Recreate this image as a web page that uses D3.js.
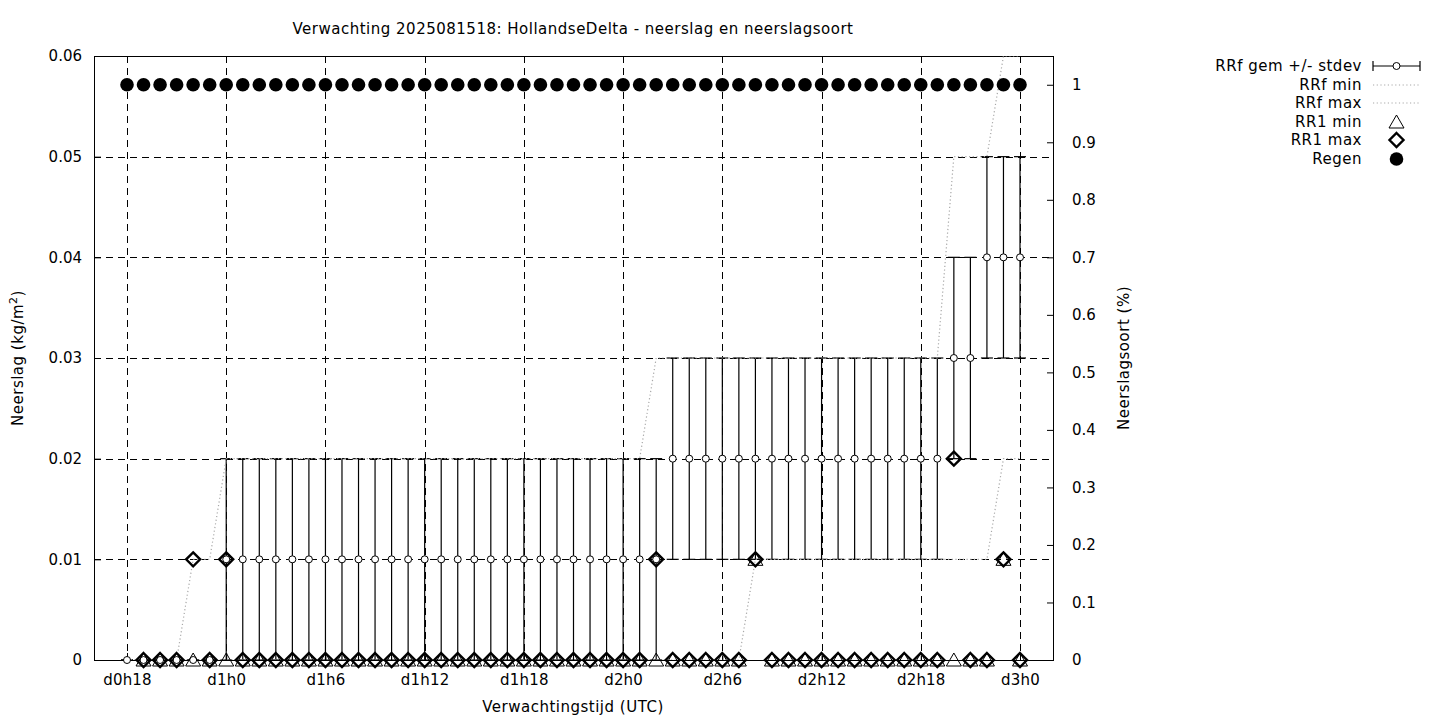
<!DOCTYPE html>
<html><head><meta charset="utf-8">
<script src="https://cdn.jsdelivr.net/npm/d3@7"></script>
<style>
html,body{margin:0;padding:0;background:#fff;}
svg text{font-family:"DejaVu Sans",sans-serif;font-size:15px;fill:#000;}
svg text.wide{letter-spacing:0.5px;}
</style></head>
<body>
<svg id="chart" width="1440" height="720"></svg>
<script>
// ---- data (hourly forecast steps, d0h18 .. d3h0) ----
const stepLabels = ["d0h18","d0h19","d0h20","d0h21","d0h22","d0h23",
 "d1h0","d1h1","d1h2","d1h3","d1h4","d1h5","d1h6","d1h7","d1h8","d1h9","d1h10","d1h11",
 "d1h12","d1h13","d1h14","d1h15","d1h16","d1h17","d1h18","d1h19","d1h20","d1h21","d1h22","d1h23",
 "d2h0","d2h1","d2h2","d2h3","d2h4","d2h5","d2h6","d2h7","d2h8","d2h9","d2h10","d2h11",
 "d2h12","d2h13","d2h14","d2h15","d2h16","d2h17","d2h18","d2h19","d2h20","d2h21","d2h22","d2h23","d3h0"];
const xTickLabels = ["d0h18","d1h0","d1h6","d1h12","d1h18","d2h0","d2h6","d2h12","d2h18","d3h0"];
const yTicks = [0,0.01,0.02,0.03,0.04,0.05,0.06];
const y2Ticks = [0,0.1,0.2,0.3,0.4,0.5,0.6,0.7,0.8,0.9,1];

const rrfMean = [0,0,0,0,0,0,
 0.01,0.01,0.01,0.01,0.01,0.01,0.01,0.01,0.01,0.01,0.01,0.01,0.01,0.01,0.01,0.01,0.01,0.01,0.01,0.01,0.01,0.01,0.01,0.01,0.01,0.01,0.01,
 0.02,0.02,0.02,0.02,0.02,0.02,0.02,0.02,0.02,0.02,0.02,0.02,0.02,0.02,0.02,0.02,0.02,
 0.03,0.03,0.04,0.04,0.04];
const rrfStdev = [0,0,0,0,0,0,
 0.01,0.01,0.01,0.01,0.01,0.01,0.01,0.01,0.01,0.01,0.01,0.01,0.01,0.01,0.01,0.01,0.01,0.01,0.01,0.01,0.01,0.01,0.01,0.01,0.01,0.01,0.01,
 0.01,0.01,0.01,0.01,0.01,0.01,0.01,0.01,0.01,0.01,0.01,0.01,0.01,0.01,0.01,0.01,0.01,
 0.01,0.01,0.01,0.01,0.01];
const rrfMin = [0,0,0,0,0,0,0,0,0,0,0,0,0,0,0,0,0,0,0,0,0,0,0,0,0,0,0,0,0,0,0,0,0,0,0,0,0,0,
 0.01,0.01,0.01,0.01,0.01,0.01,0.01,0.01,0.01,0.01,0.01,0.01,0.01,0.01,0.01,
 0.02,0.02];
const rrfMax = [0,0,0,0,0.01,0.01,
 0.02,0.02,0.02,0.02,0.02,0.02,0.02,0.02,0.02,0.02,0.02,0.02,0.02,0.02,0.02,0.02,0.02,0.02,0.02,0.02,0.02,0.02,0.02,0.02,0.02,0.02,
 0.03,0.03,0.03,0.03,0.03,0.03,0.03,0.03,0.03,0.03,0.03,0.03,0.03,0.03,0.03,0.03,0.03,0.03,
 0.05,0.05,0.05,0.06,0.06];
const rr1Min = [null,0,0,0,0,0,0,0,0,0,0,0,0,0,0,0,0,0,0,0,0,0,0,0,0,0,0,0,0,0,0,0,0,0,0,0,0,0,
 0.01,0,0,0,0,0,0,0,0,0,0,0,0,0,0,0.01,0];
const rr1Max = [null,0,0,0,0.01,0,0.01,0,0,0,0,0,0,0,0,0,0,0,0,0,0,0,0,0,0,0,0,0,0,0,0,0,
 0.01,0,0,0,0,0,0.01,0,0,0,0,0,0,0,0,0,0,0,0.02,0,0,0.01,0];
const regen = [1,1,1,1,1,1,1,1,1,1,1,1,1,1,1,1,1,1,1,1,1,1,1,1,1,1,1,1,1,1,1,1,1,1,1,1,1,1,1,1,1,1,1,1,1,1,1,1,1,1,1,1,1,1,1];

const legendLabels = ["RRf gem +/- stdev","RRf min","RRf max","RR1 min","RR1 max","Regen"];

// ---- layout ----
const svg = d3.select("#chart");
const L = 94, R = 1054, T = 56, B = 660;
const x = d3.scalePoint().domain(stepLabels).range([127, 1020]);
const y = d3.scaleLinear().domain([0, 0.06]).range([B, T]);
const y2 = d3.scaleLinear().domain([0, 1.05]).range([B, T]);
const gray = "#a8a8a8";

svg.append("defs").append("clipPath").attr("id","clip")
  .append("rect").attr("x",L).attr("y",T).attr("width",R-L).attr("height",B-T);

// grid
const grid = svg.append("g").attr("stroke","#000").attr("stroke-width",1).attr("stroke-dasharray","7,5");
grid.selectAll("line.h").data(yTicks.filter(v => v > 0 && v < 0.06)).join("line")
  .attr("x1",L).attr("x2",R).attr("y1",d=>Math.round(y(d))+0.5).attr("y2",d=>Math.round(y(d))+0.5);
grid.selectAll("line.v").data(xTickLabels).join("line")
  .attr("y1",T).attr("y2",B).attr("x1",d=>Math.round(x(d))+0.5).attr("x2",d=>Math.round(x(d))+0.5);

// axes
const fmt = d3.format(".2f");
const axL = svg.append("g").attr("transform",`translate(${L},0)`)
  .call(d3.axisLeft(y).tickValues(yTicks).tickSizeInner(-7).tickSizeOuter(0).tickPadding(12).tickFormat(d=>d===0?"0":fmt(d)));
const axR = svg.append("g").attr("transform",`translate(${R},0)`)
  .call(d3.axisRight(y2).tickValues(y2Ticks).tickSizeInner(-7).tickSizeOuter(0).tickPadding(18).tickFormat(d=>d===0?"0":(d===1?"1":d3.format(".1f")(d))));
const axB = svg.append("g").attr("transform",`translate(0,${B})`)
  .call(d3.axisBottom(x).tickValues(xTickLabels).tickSizeInner(-7).tickSizeOuter(0).tickPadding(14));
[axL,axR,axB].forEach(a=>{a.select(".domain").remove(); a.selectAll("text").style("font-family","DejaVu Sans").style("font-size","15px");
  a.selectAll("line").attr("stroke","#000");});
axB.selectAll("text").style("letter-spacing","0.2px");
// border
svg.append("rect").attr("x",L+0.5).attr("y",T+0.5).attr("width",R-L-1).attr("height",B-T)
  .attr("fill","none").attr("stroke","#000").attr("stroke-width",1);

// plot group (lines clipped to the plot area)
const g = svg.append("g").attr("clip-path","url(#clip)");
const idx = d3.range(stepLabels.length);

// error bars
const cap = 6;
const eb = g.append("g").attr("stroke","#000").attr("stroke-width",1.2);
idx.forEach(i=>{
  const xi = x(stepLabels[i]);
  const lo = y(rrfMean[i]-rrfStdev[i]), hi = y(rrfMean[i]+rrfStdev[i]);
  eb.append("line").attr("x1",xi).attr("x2",xi).attr("y1",lo).attr("y2",hi);
  eb.append("line").attr("x1",xi-cap).attr("x2",xi+cap).attr("y1",lo).attr("y2",lo);
  eb.append("line").attr("x1",xi-cap).attr("x2",xi+cap).attr("y1",hi).attr("y2",hi);
});

// min / max dotted lines
const lineGen = arr => d3.line().x(i=>x(stepLabels[i])).y(i=>y(arr[i]))(idx);
g.append("path").attr("d",lineGen(rrfMin)).attr("fill","none").attr("stroke",gray).attr("stroke-width",1.2).attr("stroke-dasharray","1.2,2.5");
g.append("path").attr("d",lineGen(rrfMax)).attr("fill","none").attr("stroke",gray).attr("stroke-width",1.2).attr("stroke-dasharray","1.2,2.5");

// symbols (not clipped)
const sym = svg.append("g");
sym.selectAll("circle.mean").data(idx).join("circle").attr("class","mean")
  .attr("cx",i=>x(stepLabels[i])).attr("cy",i=>y(rrfMean[i])).attr("r",3.5)
  .attr("fill","#fff").attr("stroke","#000").attr("stroke-width",1);
const triPath = (cx,cy)=>`M${cx},${cy-7}L${cx+7.5},${cy+6}L${cx-7.5},${cy+6}Z`;
const diaPath = (cx,cy)=>`M${cx},${cy-7}L${cx+7},${cy}L${cx},${cy+7}L${cx-7},${cy}Z`;
sym.selectAll("path.tri").data(idx.filter(i=>rr1Min[i]!==null)).join("path").attr("class","tri")
  .attr("d",i=>triPath(x(stepLabels[i]),y(rr1Min[i]))).attr("fill","none").attr("stroke","#000").attr("stroke-width",1);
sym.selectAll("path.dia").data(idx.filter(i=>rr1Max[i]!==null)).join("path").attr("class","dia")
  .attr("d",i=>diaPath(x(stepLabels[i]),y(rr1Max[i]))).attr("fill","none").attr("stroke","#000").attr("stroke-width",2.4);
sym.selectAll("circle.reg").data(idx).join("circle").attr("class","reg")
  .attr("cx",i=>x(stepLabels[i])).attr("cy",i=>y2(regen[i])).attr("r",6.8).attr("fill","#000");

// labels
svg.append("text").attr("class","wide").attr("x",573).attr("y",34).attr("text-anchor","middle").text("Verwachting 2025081518: HollandseDelta - neerslag en neerslagsoort");
svg.append("text").attr("class","wide").attr("x",573).attr("y",712).attr("text-anchor","middle").text("Verwachtingstijd (UTC)");
const yl = svg.append("text").attr("class","wide").attr("transform","translate(23,358) rotate(-90)").attr("text-anchor","middle");
yl.append("tspan").text("Neerslag (kg/m");
yl.append("tspan").attr("dy",-6).style("font-size","11px").text("2");
yl.append("tspan").attr("dy",6).text(")");
svg.append("text").attr("class","wide").attr("transform","translate(1129,358) rotate(-90)").attr("text-anchor","middle").text("Neerslagsoort (%)");

// legend
const lg = svg.append("g");
const rowY = [66,85,103,122,140,159];
legendLabels.forEach((t,k)=>{
  lg.append("text").attr("class","wide").attr("x",1362).attr("y",rowY[k]+5).attr("text-anchor","end").text(t);
});
const lx1 = 1373, lx2 = 1420, lxm = 1396.5;
lg.append("line").attr("x1",lx1).attr("x2",lx2).attr("y1",rowY[0]).attr("y2",rowY[0]).attr("stroke","#000").attr("stroke-width",1.2);
[lx1,lx2].forEach(xx=>lg.append("line").attr("x1",xx).attr("x2",xx).attr("y1",rowY[0]-5).attr("y2",rowY[0]+5).attr("stroke","#000").attr("stroke-width",1.2));
lg.append("circle").attr("cx",lxm).attr("cy",rowY[0]).attr("r",3.5).attr("fill","#fff").attr("stroke","#000");
[1,2].forEach(k=>lg.append("line").attr("x1",lx1).attr("x2",lx2).attr("y1",rowY[k]).attr("y2",rowY[k])
  .attr("stroke",gray).attr("stroke-width",1.2).attr("stroke-dasharray","1.2,2.5"));
lg.append("path").attr("d",triPath(lxm,rowY[3])).attr("fill","none").attr("stroke","#000").attr("stroke-width",1);
lg.append("path").attr("d",diaPath(lxm,rowY[4])).attr("fill","none").attr("stroke","#000").attr("stroke-width",2.4);
lg.append("circle").attr("cx",lxm).attr("cy",rowY[5]).attr("r",6.8).attr("fill","#000");
</script>
</body></html>
